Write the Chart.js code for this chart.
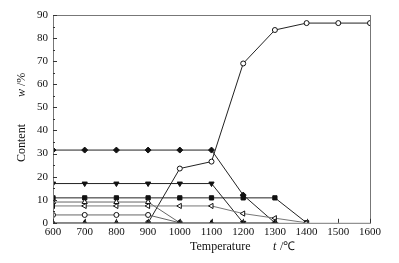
<!DOCTYPE html>
<html>
<head>
<meta charset="utf-8">
<script src="https://cdn.jsdelivr.net/npm/chart.js@4/dist/chart.umd.min.js"></script>
<style>
  html, body { margin: 0; padding: 0; background: #fff; }
  #wrap { width: 399px; height: 263px; }
</style>
</head>
<body>
<div id="wrap"><canvas id="chart" width="399" height="263"></canvas></div>
<script>
const temps = [600, 700, 800, 900, 1000, 1100, 1200, 1300, 1400, 1500, 1600];
const xTicks = [600, 700, 800, 900, 1000, 1100, 1200, 1300, 1400, 1500, 1600];
const yTicks = [0, 10, 20, 30, 40, 50, 60, 70, 80, 90];

// series (null = no point)
const diamondFilled = [31.5, 31.5, 31.5, 31.5, 31.5, 31.5, 12, 0, null, null, null];
const openRise      = [null, null, null, 0, 23.5, 26.5, 69, 83.5, 86.5, 86.5, 86.5];
const triDown       = [17, 17, 17, 17, 17, 17, 0, null, null, null, null];
const squareFilled  = [10.8, 10.8, 10.8, 10.8, 10.8, 10.8, 10.8, 10.8, 0, null, null];
const upTriOpen     = [9, 9, 9, 9, 0, null, null, null, null, null, null];
const leftTriOpen   = [7.3, 7.3, 7.3, 7.3, 7.3, 7.3, 4, 2, 0, null, null];
const circleOpen    = [3.4, 3.4, 3.4, 3.4, 0, null, null, null, null, null, null];
const triFilled     = [0, 0, 0, 0, 0, 0, 0, 0, null, null, null];

function pts(arr) {
    return temps.map((t, i) => ({ x: t, y: arr[i] })).filter(p => p.y !== null);
}

function series(arr, style, filled, color, rot, r) {
    return {
        data: pts(arr),
        borderColor: color,
        borderWidth: 1,
        pointStyle: style,
        pointRotation: rot || 0,
        pointRadius: r || 3,
        pointBorderWidth: 1,
        pointBorderColor: '#111',
        pointBackgroundColor: filled ? '#111' : '#fff',
        tension: 0
    };
}

const framePlugin = {
    id: 'frame',
    afterDraw(chart) {
        const ctx = chart.ctx;
        const a = chart.chartArea;
        const xs = chart.scales.x, ys = chart.scales.y;
        ctx.save();
        ctx.strokeStyle = '#777';
        ctx.lineWidth = 1;
        ctx.strokeRect(a.left + 0.5, a.top + 0.5, a.right - a.left, a.bottom - a.top);
        ctx.strokeStyle = '#333';
        ctx.beginPath();
        xTicks.forEach(v => {
            const px = Math.round(xs.getPixelForValue(v)) + 0.5;
            ctx.moveTo(px, a.bottom);
            ctx.lineTo(px, a.bottom - 4);
        });
        for (let v = 0; v <= 90; v += 5) {
            const py = Math.round(ys.getPixelForValue(v)) + 0.5;
            ctx.moveTo(a.left, py);
            ctx.lineTo(a.left + (v % 10 === 0 ? 4 : 2), py);
        }
        ctx.stroke();

        // axis titles
        ctx.fillStyle = '#111';
        ctx.textBaseline = 'middle';
        ctx.textAlign = 'left';
        ctx.font = '12px "Liberation Serif"';
        ctx.fillText('Temperature', 190, 247);
        ctx.font = 'italic 12px "Liberation Serif"';
        ctx.fillText('t', 273, 247);
        ctx.font = '12px "Liberation Serif"';
        ctx.fillText(' /\u2103', 277, 247);

        ctx.translate(22, 0);
        ctx.rotate(-Math.PI / 2);
        ctx.fillText('Content', -162, 0);
        ctx.font = 'italic 12px "Liberation Serif"';
        ctx.fillText('w', -97, 0);
        ctx.font = '12px "Liberation Serif"';
        ctx.fillText(' /%', -89, 0);
        ctx.restore();
    }
};

new Chart(document.getElementById('chart'), {
    type: 'line',
    data: {
        datasets: [
            series(triFilled, 'triangle', true, '#222'),
            series(circleOpen, 'circle', false, '#666', 0, 2.5),
            series(leftTriOpen, 'triangle', false, '#777', -90),
            series(upTriOpen, 'triangle', false, '#666'),
            series(squareFilled, 'rect', true, '#222'),
            series(triDown, 'triangle', true, '#222', 180),
            series(openRise, 'circle', false, '#222', 0, 2.5),
            series(diamondFilled, 'rectRot', true, '#222')
        ]
    },
    options: {
        responsive: false,
        animation: false,
        layout: { padding: { left: 4, right: 29, top: 15, bottom: 21 } },
        plugins: { legend: { display: false }, tooltip: { enabled: false } },
        scales: {
            x: {
                type: 'linear',
                min: 600, max: 1600,
                afterBuildTicks: s => { s.ticks = xTicks.map(v => ({ value: v })); },
                grid: { display: false, tickLength: 0 },
                border: { display: false },
                ticks: {
                    color: '#111',
                    font: { family: 'Liberation Serif', size: 11 },
                    padding: 3,
                    maxRotation: 0,
                    callback: v => String(v)
                }
            },
            y: {
                min: 0, max: 90,
                afterBuildTicks: s => { s.ticks = yTicks.map(v => ({ value: v })); },
                afterFit: s => { s.width = 49; },
                grid: { display: false, tickLength: 0 },
                border: { display: false },
                ticks: {
                    color: '#111',
                    font: { family: 'Liberation Serif', size: 11 },
                    padding: 5
                }
            }
        }
    },
    plugins: [framePlugin]
});
</script>
</body>
</html>
